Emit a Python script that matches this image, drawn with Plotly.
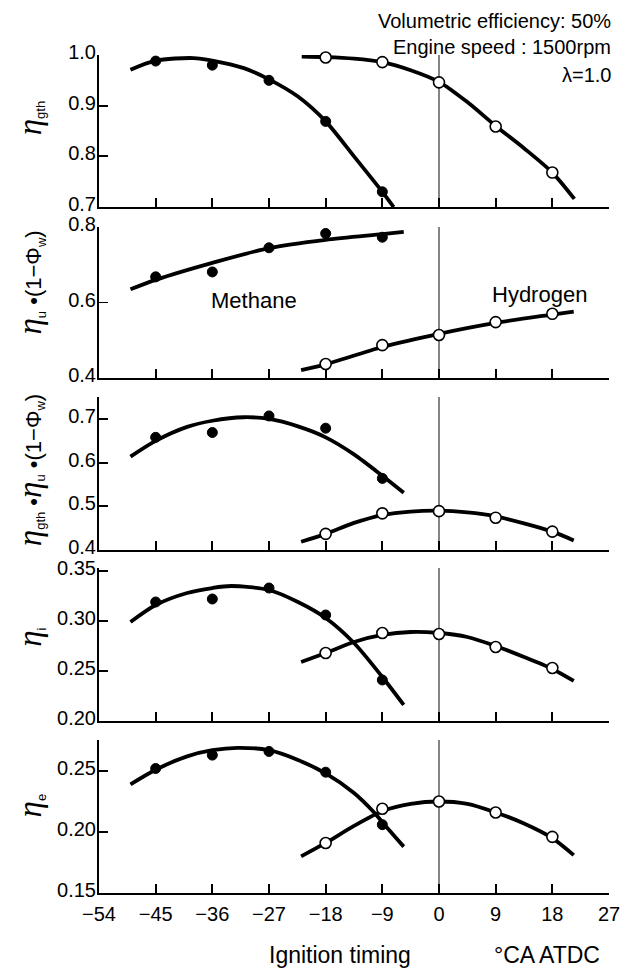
import plotly.graph_objects as go

# ---------------- data ----------------
methane_x = [-45, -36, -27, -18, -9]
hydrogen_x = [-18, -9, 0, 9, 18]

# measured points per panel
m_gth = [0.988, 0.980, 0.950, 0.869, 0.730]
h_gth = [0.995, 0.986, 0.946, 0.859, 0.768]
m_u = [0.668, 0.681, 0.745, 0.783, 0.773]
h_u = [0.437, 0.487, 0.514, 0.548, 0.570]
m_prod = [0.658, 0.669, 0.707, 0.679, 0.564]
h_prod = [0.437, 0.484, 0.489, 0.474, 0.442]
m_i = [0.319, 0.322, 0.333, 0.306, 0.241]
h_i = [0.268, 0.288, 0.287, 0.274, 0.253]
m_e = [0.252, 0.263, 0.266, 0.249, 0.206]
h_e = [0.191, 0.219, 0.225, 0.216, 0.196]

# fitted curves (sampled along the drawn curves)
m_gth_cx = [-49, -45, -39, -36, -31, -27, -22.4, -18, -13.5, -9, -7.2]
m_gth_cy = [0.971, 0.989, 0.994, 0.989, 0.974, 0.952, 0.918, 0.869, 0.800, 0.730, 0.700]
h_gth_cx = [-21.8, -18, -13.5, -9, -4.5, 0, 4.5, 9, 13.5, 18, 21.5]
h_gth_cy = [0.997, 0.996, 0.993, 0.986, 0.970, 0.947, 0.907, 0.860, 0.816, 0.768, 0.716]

m_u_cx = [-49, -45, -36, -27, -18, -9, -5.6]
m_u_cy = [0.635, 0.660, 0.705, 0.744, 0.766, 0.781, 0.787]
h_u_cx = [-21.9, -18, -9, 0, 9, 18, 21.4]
h_u_cy = [0.421, 0.436, 0.482, 0.517, 0.546, 0.568, 0.576]

m_prod_cx = [-49, -45, -40, -36, -31, -27, -22.4, -18, -13.5, -9, -5.6]
m_prod_cy = [0.614, 0.650, 0.682, 0.696, 0.704, 0.700, 0.683, 0.658, 0.619, 0.570, 0.531]
h_prod_cx = [-21.9, -18, -13.5, -9, -4.5, 0, 4.5, 9, 13.5, 18, 21.4]
h_prod_cy = [0.419, 0.437, 0.462, 0.480, 0.488, 0.490, 0.486, 0.477, 0.461, 0.442, 0.422]

m_i_cx = [-49, -45, -40, -36, -33, -27, -22.4, -18, -13.5, -9, -5.6]
m_i_cy = [0.299, 0.316, 0.328, 0.333, 0.335, 0.331, 0.319, 0.303, 0.278, 0.244, 0.216]
h_i_cx = [-21.9, -18, -13.5, -9, -4.5, 0, 4.5, 9, 13.5, 18, 21.4]
h_i_cy = [0.259, 0.268, 0.279, 0.286, 0.289, 0.288, 0.284, 0.275, 0.264, 0.252, 0.240]

m_e_cx = [-49, -45, -40, -36, -32, -27, -22.4, -18, -13.5, -10.3, -9, -5.6]
m_e_cy = [0.239, 0.251, 0.262, 0.267, 0.269, 0.267, 0.259, 0.248, 0.232, 0.216, 0.208, 0.188]
h_e_cx = [-21.9, -18, -13.5, -9, -4.5, 0, 4.5, 9, 13.5, 18, 21.4]
h_e_cy = [0.180, 0.191, 0.205, 0.217, 0.223, 0.225, 0.223, 0.216, 0.207, 0.195, 0.181]

x_ticks = [-54, -45, -36, -27, -18, -9, 0, 9, 18, 27]
y_ticks = [
    [0.7, 0.8, 0.9, 1.0],
    [0.4, 0.6, 0.8],
    [0.4, 0.5, 0.6, 0.7],
    [0.20, 0.25, 0.30, 0.35],
    [0.15, 0.20, 0.25],
]
y_ticktext = [
    ["0.7", "0.8", "0.9", "1.0"],
    ["0.4", "0.6", "0.8"],
    ["0.4", "0.5", "0.6", "0.7"],
    ["0.20", "0.25", "0.30", "0.35"],
    ["0.15", "0.20", "0.25"],
]
y_ranges = [[0.7, 1.0], [0.4, 0.8], [0.4, 0.7504], [0.2, 0.353], [0.15, 0.2754]]
domains = [[0.8186, 1.0], [0.6146, 0.7947], [0.4093, 0.5919], [0.2053, 0.3878], [0.0, 0.1826]]

panels = [
    (m_gth, h_gth, m_gth_cx, m_gth_cy, h_gth_cx, h_gth_cy),
    (m_u, h_u, m_u_cx, m_u_cy, h_u_cx, h_u_cy),
    (m_prod, h_prod, m_prod_cx, m_prod_cy, h_prod_cx, h_prod_cy),
    (m_i, h_i, m_i_cx, m_i_cy, h_i_cx, h_i_cy),
    (m_e, h_e, m_e_cx, m_e_cy, h_e_cx, h_e_cy),
]

SANS = "Liberation Sans, Arial, sans-serif"
ETA = '<span style="font-family:Liberation Serif;font-size:33px"><i>η</i></span>'


def sub(t):
    return '<sub><span style="font-size:13px">' + t + '</span></sub>'


y_titles = [
    ETA + sub("gth"),
    ETA + sub("u") + " •(1−Φ" + sub("w") + ")",
    ETA + sub("gth") + " •" + ETA + sub("u") + " •(1−Φ" + sub("w") + ")",
    ETA + sub("i"),
    ETA + sub("e"),
]
y_title_pos = [0.925, 0.729, 0.505, 0.305, 0.105]

fig = go.Figure()
layout_axes = {}
shapes = []
annotations = []

for i, (my, hy, mcx, mcy, hcx, hcy) in enumerate(panels):
    n = i + 1
    xa = "x" if n == 1 else f"x{n}"
    ya = "y" if n == 1 else f"y{n}"
    # curves
    for cx, cy in [(mcx, mcy), (hcx, hcy)]:
        fig.add_trace(go.Scatter(x=cx, y=cy, mode="lines", xaxis=xa, yaxis=ya,
                                 line=dict(color="black", width=3.8, shape="spline", smoothing=0.8),
                                 showlegend=False, hoverinfo="skip", cliponaxis=False))
    # measured points
    fig.add_trace(go.Scatter(x=methane_x, y=my, mode="markers", xaxis=xa, yaxis=ya,
                             marker=dict(symbol="circle", size=10, color="black",
                                         line=dict(color="black", width=1)),
                             showlegend=False, cliponaxis=False))
    fig.add_trace(go.Scatter(x=hydrogen_x, y=hy, mode="markers", xaxis=xa, yaxis=ya,
                             marker=dict(symbol="circle", size=11, color="white",
                                         line=dict(color="black", width=1.6)),
                             showlegend=False, cliponaxis=False))

    layout_axes["xaxis" if n == 1 else f"xaxis{n}"] = dict(
        domain=[0, 1], anchor=ya, range=[-54, 27], tickvals=x_ticks,
        ticktext=[str(v).replace("-", "−") for v in x_ticks],
        ticks="inside", ticklen=9, tickwidth=1.8, tickcolor="black",
        showline=True, linewidth=2, linecolor="black", showgrid=False, zeroline=False,
        showticklabels=(n == 5), tickfont=dict(family=SANS, size=20, color="black"),
        ticklabelstandoff=2,
    )
    layout_axes["yaxis" if n == 1 else f"yaxis{n}"] = dict(
        domain=domains[i], anchor=xa, range=y_ranges[i], tickvals=y_ticks[i],
        ticktext=y_ticktext[i], ticks="inside", ticklen=9, tickwidth=1.8, tickcolor="black",
        showline=True, linewidth=2, linecolor="black", showgrid=False, zeroline=False,
        tickfont=dict(family=SANS, size=20, color="black"), ticklabelshift=-3,
        ticklabelstandoff=-3,
    )
    shapes.append(dict(type="line", xref=xa, yref=f"{ya} domain", x0=0, x1=0, y0=0, y1=1,
                       line=dict(color="#333333", width=1.2), layer="below"))
    annotations.append(dict(text=y_titles[i], xref="paper", yref="paper", x=-0.1345,
                            y=y_title_pos[i], xanchor="center", yanchor="middle",
                            textangle=-90, showarrow=False,
                            font=dict(family=SANS, size=22, color="black")))

# labels inside plot
annotations.append(dict(text="Methane", xref="x2", yref="y2", x=-29.4, y=0.604,
                        showarrow=False, font=dict(family=SANS, size=22, color="black")))
annotations.append(dict(text="Hydrogen", xref="x2", yref="y2", x=15.9, y=0.622,
                        showarrow=False, font=dict(family=SANS, size=22, color="black")))

# condition notes (top right)
for txt, yy in [("Volumetric efficiency: 50%", 1.0406), ("Engine speed : 1500rpm", 1.0095),
                ("λ=1.0", 0.976)]:
    annotations.append(dict(text=txt, xref="paper", yref="paper", x=1.008, y=yy,
                            xanchor="right", yanchor="middle", showarrow=False,
                            font=dict(family=SANS, size=20, color="black")))

# x-axis title pieces
annotations.append(dict(text="Ignition timing", xref="paper", yref="paper", x=0.473, y=-0.074,
                        xanchor="center", yanchor="middle", showarrow=False,
                        font=dict(family=SANS, size=23, color="black")))
annotations.append(dict(text="°CA ATDC", xref="paper", yref="paper", x=0.878, y=-0.074,
                        xanchor="center", yanchor="middle", showarrow=False,
                        font=dict(family=SANS, size=23, color="black")))

fig.update_layout(
    width=632, height=972, autosize=False,
    margin=dict(l=99, r=20, t=55, b=79),
    paper_bgcolor="white", plot_bgcolor="white",
    showlegend=False, shapes=shapes, annotations=annotations,
    font=dict(family=SANS, color="black"),
    **layout_axes,
)

fig.write_html("out.html",
               config={"displayModeBar": False, "staticPlot": True},
               post_script="document.body.style.margin='0';document.body.style.padding='0';"
                           "document.documentElement.style.overflow='hidden';")
